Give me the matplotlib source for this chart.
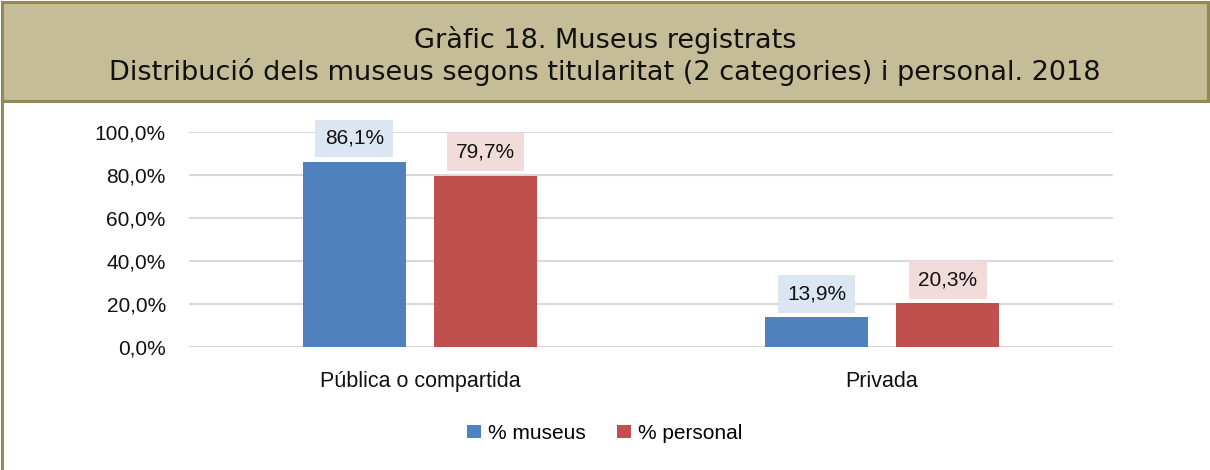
import matplotlib
matplotlib.use("Agg")
from matplotlib import pyplot as plt
from matplotlib.patches import Rectangle
import numpy as np

categories = ["Pública o compartida", "Privada"]
museus = [86.1, 13.9]
personal = [79.7, 20.3]
series_names = ["% museus", "% personal"]
yticks = [0, 20, 40, 60, 80, 100]

title = "Gràfic 18. Museus registrats\nDistribució dels museus segons titularitat (2 categories) i personal. 2018"


def fmt(v):
    return f"{v:.1f}%".replace(".", ",")


def main():
    plt.rcParams['font.family'] = ['Liberation Sans', 'DejaVu Sans']
    fig = plt.figure(figsize=(12.1, 4.7), dpi=100)

    # header band
    fig.patches.append(Rectangle((0.002, 0.786), 0.996, 0.21, transform=fig.transFigure,
                                 facecolor="#C4BD97", edgecolor="#938953", linewidth=2.2))
    fig.lines.append(plt.Line2D([0.002, 0.002], [0.0, 0.79], transform=fig.transFigure,
                                color="#938953", linewidth=2.2))
    fig.text(0.5, 0.881, title, ha="center", va="center", fontsize=19.5,
             family="DejaVu Sans", linespacing=1.2, color="#111111")

    ax = fig.add_axes([0.156, 0.2617, 0.764, 0.4575])
    blue, red = "#4F81BD", "#C0504D"
    x = np.arange(len(categories))
    w = 0.223
    off = 0.142
    b1 = ax.bar(x - off, museus, w, color=blue, label=series_names[0], zorder=3)
    b2 = ax.bar(x + off, personal, w, color=red, label=series_names[1], zorder=3)

    for bars, vals, bg in ((b1, museus, "#DCE6F2"), (b2, personal, "#F2DCDB")):
        for bar, v in zip(bars, vals):
            ax.annotate(fmt(v), (bar.get_x() + bar.get_width() / 2, v),
                        xytext=(0, 10), textcoords="offset points",
                        ha="center", va="bottom", fontsize=15, color="#111111",
                        bbox=dict(boxstyle="square,pad=0.45", facecolor=bg, edgecolor="none"),
                        zorder=4)

    ax.set_xlim(-0.5, 1.5)
    ax.set_ylim(0, 100)
    ax.set_yticks(yticks)
    ax.set_yticklabels([fmt(t) for t in yticks], fontsize=15)
    ax.set_xticks(x)
    ax.set_xticklabels(categories, fontsize=15.5)
    ax.tick_params(axis="both", length=0, colors="#111111")
    ax.tick_params(axis="y", pad=16.5)
    ax.tick_params(axis="x", pad=17)
    ax.yaxis.grid(True, color="#D9D9D9", linewidth=1.5, zorder=0)
    for s in ax.spines.values():
        s.set_visible(False)

    fig.legend(handles=[b1, b2], loc="center", bbox_to_anchor=(0.5, 0.078), ncol=2,
               frameon=False, fontsize=15, handlelength=0.65, handleheight=0.65,
               handletextpad=0.35, columnspacing=1.5)

    fig.savefig("out.png", dpi=100)


if __name__ == '__main__':
    main()
